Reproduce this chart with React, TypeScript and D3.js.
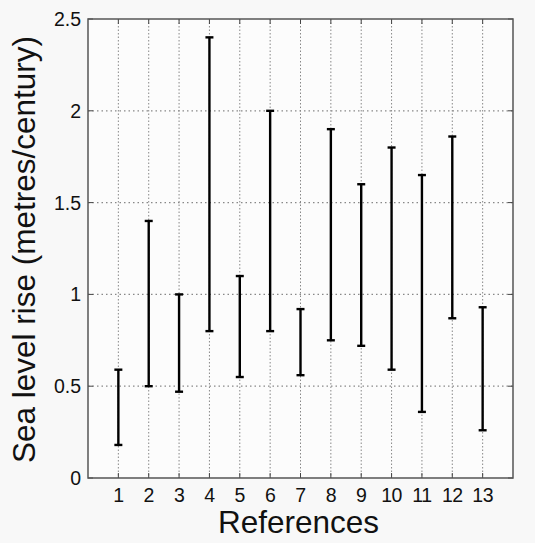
import React from "react";
import * as d3 from "d3";

const references = [1, 2, 3, 4, 5, 6, 7, 8, 9, 10, 11, 12, 13];
const lowValues = [0.18, 0.5, 0.47, 0.8, 0.55, 0.8, 0.56, 0.75, 0.72, 0.59, 0.36, 0.87, 0.26];
const highValues = [0.59, 1.4, 1.0, 2.4, 1.1, 2.0, 0.92, 1.9, 1.6, 1.8, 1.65, 1.86, 0.93];
const yTicks = [0, 0.5, 1, 1.5, 2, 2.5];
const yTickLabels = ["0", "0.5", "1", "1.5", "2", "2.5"];
const xLabel = "References";
const yLabel = "Sea level rise (metres/century)";

const W = 535;
const H = 543;
const M = { left: 88, right: 513, top: 19, bottom: 478 };
const FONT = "'Liberation Sans', Arial, Helvetica, sans-serif";

export default function App() {
  const x = d3.scaleLinear().domain([0, 14]).range([M.left, M.right]);
  const y = d3.scaleLinear().domain([0, 2.5]).range([M.bottom, M.top]);
  const tickLen = 5;
  const capW = 8;
  return (
    <svg
      width={W}
      height={H}
      style={{ position: "absolute", left: 0, top: 0, background: "#f8f8f8" }}
    >
      <rect x={0} y={0} width={W} height={H} fill="#f8f8f8" />
      <rect x={M.left} y={M.top} width={M.right - M.left} height={M.bottom - M.top} fill="#fcfcfc" />
      {/* grid */}
      {references.map((r) => (
        <line key={"gx" + r} x1={x(r)} x2={x(r)} y1={M.top} y2={M.bottom} stroke="#888" strokeWidth={1} strokeDasharray="1.5,2" />
      ))}
      {yTicks.slice(1, -1).map((t) => (
        <line key={"gy" + t} x1={M.left} x2={M.right} y1={y(t)} y2={y(t)} stroke="#888" strokeWidth={1.3} strokeDasharray="1.5,3" />
      ))}
      {/* ticks */}
      {references.map((r) => (
        <g key={"tx" + r}>
          <line x1={x(r)} x2={x(r)} y1={M.bottom} y2={M.bottom - tickLen} stroke="#444" strokeWidth={1} />
          <line x1={x(r)} x2={x(r)} y1={M.top} y2={M.top + tickLen} stroke="#444" strokeWidth={1} />
          <text x={x(r)} y={502} textAnchor="middle" fontFamily={FONT} fontSize={19.5} fill="#111" letterSpacing={-0.5}>{r}</text>
        </g>
      ))}
      {yTicks.map((t, i) => (
        <g key={"ty" + t}>
          <line x1={M.left} x2={M.left + tickLen} y1={y(t)} y2={y(t)} stroke="#444" strokeWidth={1} />
          <line x1={M.right} x2={M.right - tickLen} y1={y(t)} y2={y(t)} stroke="#444" strokeWidth={1} />
          <text x={81} y={y(t)} dy="0.36em" textAnchor="end" fontFamily={FONT} fontSize={19.5} fill="#111">{yTickLabels[i]}</text>
        </g>
      ))}
      {/* error bars */}
      {references.map((r, i) => (
        <g key={"bar" + r} stroke="#000" strokeWidth={2.4}>
          <line x1={x(r)} x2={x(r)} y1={y(lowValues[i])} y2={y(highValues[i])} />
          <line x1={x(r) - capW / 2} x2={x(r) + capW / 2} y1={y(lowValues[i])} y2={y(lowValues[i])} />
          <line x1={x(r) - capW / 2} x2={x(r) + capW / 2} y1={y(highValues[i])} y2={y(highValues[i])} />
        </g>
      ))}
      {/* box */}
      <rect x={M.left} y={M.top} width={M.right - M.left} height={M.bottom - M.top} fill="none" stroke="#555" strokeWidth={1.5} />
      {/* labels */}
      <text x={(M.left + M.right) / 2 - 2} y={533} textAnchor="middle" fontFamily={FONT} fontSize={31.5} fill="#111">{xLabel}</text>
      <text transform={`translate(35,${(M.top + M.bottom) / 2 + 1}) rotate(-90)`} textAnchor="middle" fontFamily={FONT} fontSize={31.5} fill="#111">{yLabel}</text>
    </svg>
  );
}
